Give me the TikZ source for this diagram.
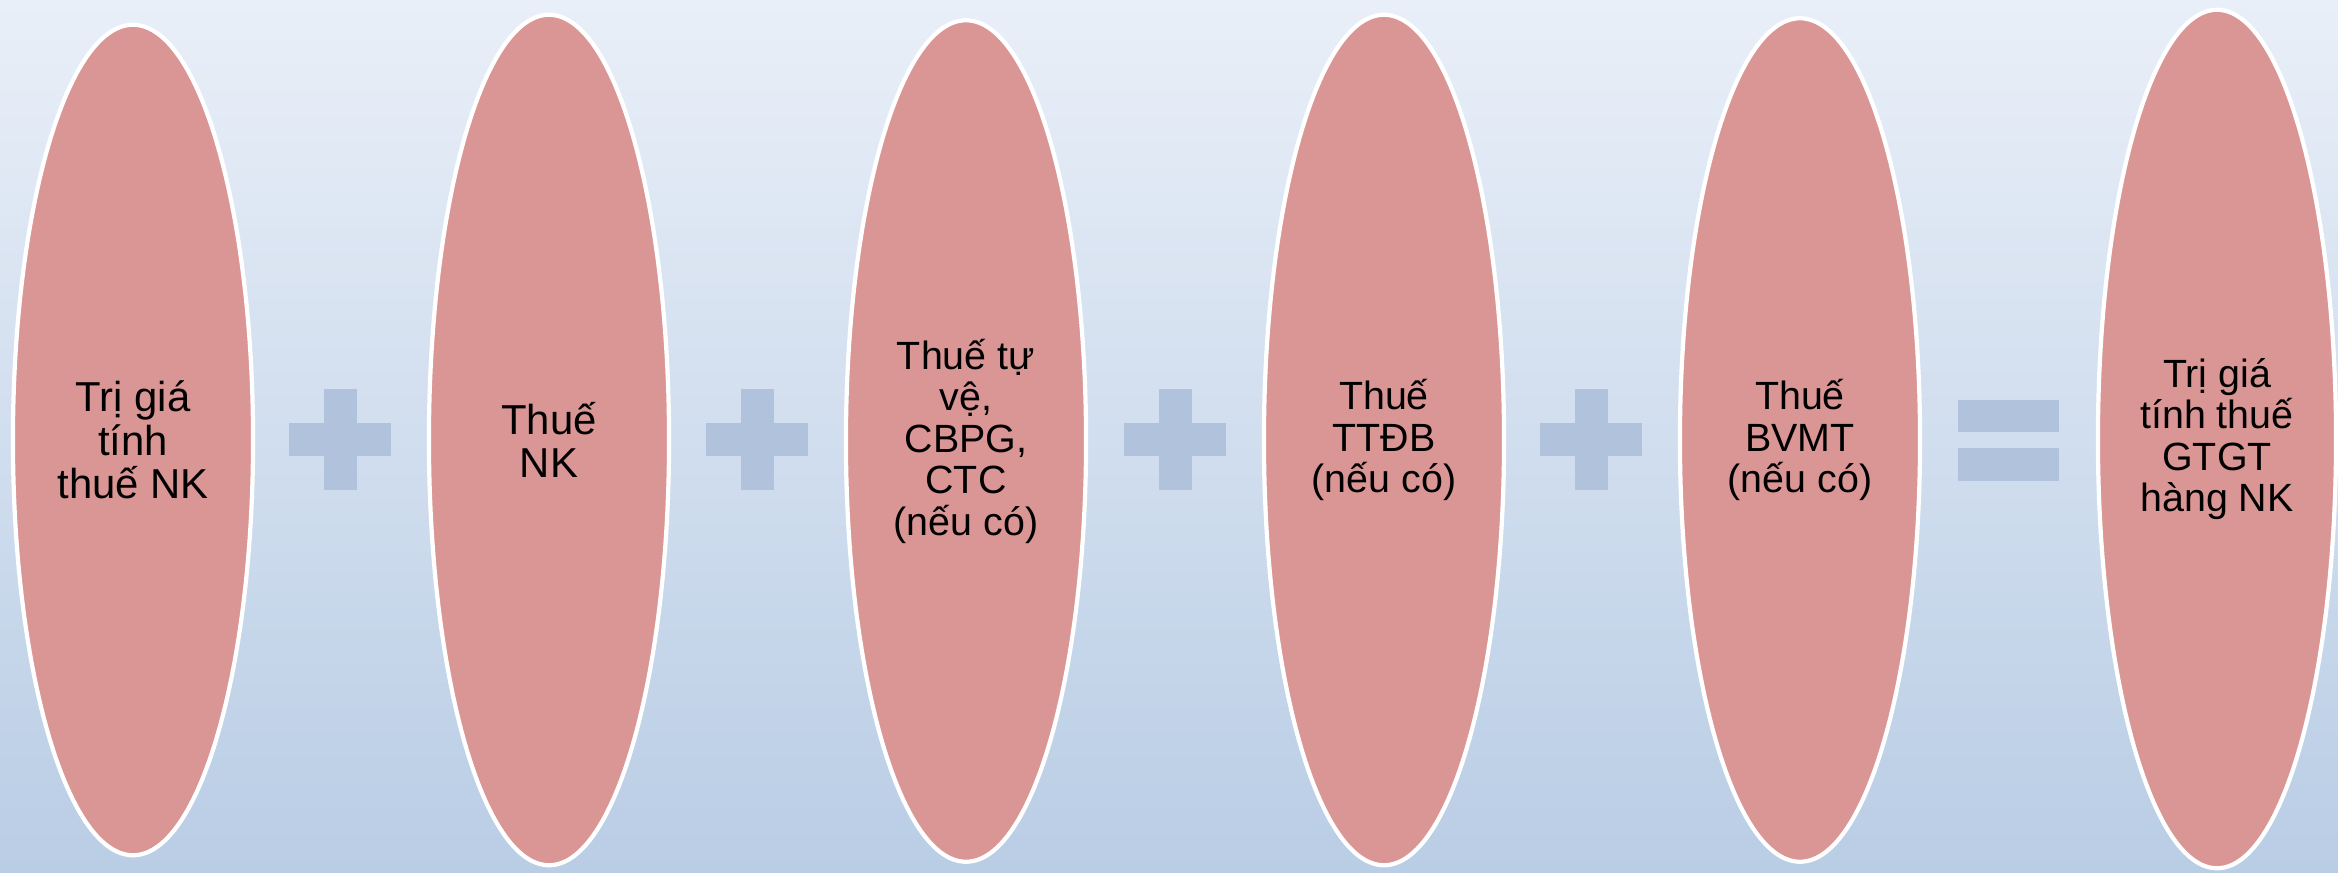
\documentclass[tikz,border=0pt]{standalone}
\usepackage{fontspec}
\setmainfont{Liberation Sans}
\usetikzlibrary{shapes.geometric}
\definecolor{bgtop}{HTML}{E9EFF8}
\definecolor{bgbot}{HTML}{B9CDE5}
\definecolor{ovalfill}{HTML}{DA9694}
\definecolor{signcol}{HTML}{B0C2DC}
\tikzset{
  oval/.style={ellipse, fill=ovalfill, draw=white, line width=1.2pt, inner sep=0pt,
    minimum width=2.4cm, align=center, text=black,
    font=\fontsize{11.2pt}{11.8pt}\selectfont},
  bigtext/.style={font=\fontsize{11.9pt}{12.4pt}\selectfont},
  signfill/.style={fill=signcol}
}
\begin{document}
\begin{tikzpicture}[x=0.01cm, y=-0.01cm]
\useasboundingbox (0,0) rectangle (2338,872);
\shade[top color=bgtop, bottom color=bgbot] (0,0) rectangle (2338,872);
% ovals
\node[oval, bigtext, minimum height=8.30cm] (e1) at (133,440) {Trị giá\\tính\\thuế NK};
\node[oval, bigtext, minimum height=8.50cm] (e2) at (549,440) {Thuế\\NK};
\node[oval, minimum height=8.41cm] (e3) at (966,441) {Thuế tự\\vệ,\\CBPG,\\CTC\\(nếu có)};
\node[oval, minimum height=8.50cm] (e4) at (1384,440) {Thuế\\TTĐB\\(nếu có)};
\node[oval, minimum height=8.43cm] (e5) at (1800,440) {Thuế\\BVMT\\(nếu có)};
\node[oval, minimum height=8.58cm, minimum width=2.38cm] (e6) at (2217,439) {Trị giá\\tính thuế\\GTGT\\hàng NK};
% plus signs
\foreach \cx in {340,757,1175,1591}{
  \fill[signfill] (\cx-51,423) rectangle (\cx+51,456);
  \fill[signfill] (\cx-16.5,389) rectangle (\cx+16.5,490);
}
% equal sign
\fill[signfill] (1958,400) rectangle (2059,432);
\fill[signfill] (1958,448) rectangle (2059,481);
\end{tikzpicture}
\end{document}
